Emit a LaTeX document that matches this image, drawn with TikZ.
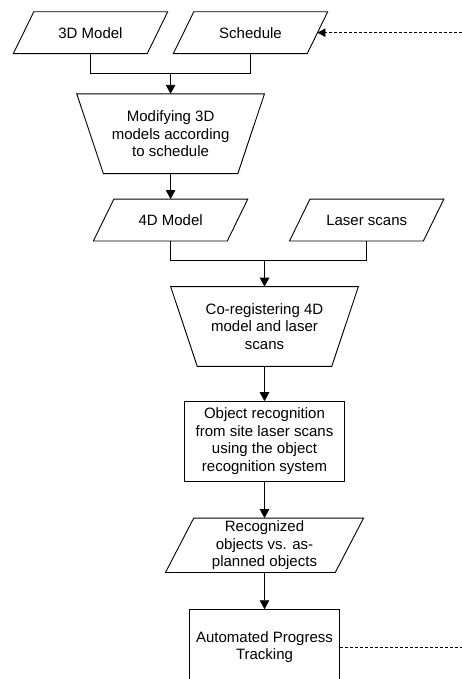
\documentclass[tikz,border=0pt]{standalone}
\usepackage{fontspec}
\setmainfont{Liberation Sans}
\usetikzlibrary{arrows.meta,calc}
\newcommand\paraoutline[2]{\draw[outline] ([xshift=#2]#1.north west) -- (#1.north east) -- ([xshift=-#2]#1.south east) -- (#1.south west) -- cycle;}
\newcommand\trapoutline[2]{\draw[outline] (#1.north west) -- (#1.north east) -- ([xshift=-#2]#1.south east) -- ([xshift=#2]#1.south west) -- cycle;}
\begin{document}
\begin{tikzpicture}[x=1pt,y=-1pt,
  every node/.style={font=\fontsize{15}{17.6}\selectfont},
  txt/.style={inner sep=0pt, align=center},
  outline/.style={draw=black, line width=0.9pt, line join=miter},
  conn/.style={draw=black, line width=0.9pt},
  arr/.style={conn, -{Triangle[length=9pt,width=9.5pt]}},
  fb/.style={draw=black, line width=0.8pt, dash pattern=on 3pt off 2pt},
  para/.style={txt, minimum width=154pt, minimum height=41.5pt},
  trap/.style={txt, minimum width=187.3pt, minimum height=79.3pt},
  rectbox/.style={txt, draw=black, line width=0.9pt}
]
\useasboundingbox (0,0) rectangle (462,679);

% nodes
\node[para] (m3d) at (90.5,32.7) {3D Model};
\node[para] (sch) at (250.5,32.7) {Schedule};
\node[trap] (mod) at (170.6,133.7) {Modifying 3D\\models according\\to schedule};
\node[para] (m4d) at (170.6,220) {4D Model};
\node[para] (las) at (366.7,220) {Laser scans};
\node[trap] (coreg) at (264.5,326.5) {Co-registering 4D\\model and laser\\scans};
\node[rectbox, minimum width=160.3pt, minimum height=79.3pt] (obj) at (264.5,441.3)
  {Object recognition\\from site laser scans\\using the object\\recognition system};
\node[txt, minimum width=197.7pt, minimum height=54pt] (rec) at (264.5,545.3)
  {Recognized\\objects vs. as-\\planned objects};
\node[rectbox, minimum width=150pt, minimum height=75pt] (apt) at (264.5,647.2)
  {Automated Progress\\Tracking};

% outlines
\paraoutline{m3d}{20.5pt}
\paraoutline{sch}{20.5pt}
\trapoutline{mod}{26.6pt}
\paraoutline{m4d}{20.5pt}
\paraoutline{las}{20.5pt}
\trapoutline{coreg}{26.6pt}
\paraoutline{rec}{28.3pt}

% connectors
\coordinate (j1) at ([yshift=20.7pt]mod.north);
\draw[conn] (m3d.south) |- (j1) -| (sch.south);
\draw[arr] (j1) -- (mod.north);
\draw[arr] (mod.south) -- (m4d.north);
\coordinate (j2) at ([yshift=26.3pt]coreg.north);
\draw[conn] (m4d.south) |- (j2) -| (las.south);
\draw[arr] (j2) -- (coreg.north);
\draw[arr] (coreg.south) -- (obj.north);
\draw[arr] (obj.south) -- (rec.north);
\draw[arr] (rec.south) -- (apt.north);

% feedback (cut by the picture edge)
\coordinate (fbR) at (462,647.2);
\coordinate (fbT) at (462,32.7);
\coordinate (schR) at ($(sch.north east)!0.5!([xshift=-20.5pt]sch.south east)$);
\draw[fb] (apt.east) -- (fbR);
\draw[fb, -{Triangle[length=8pt,width=8.5pt]}] (fbT) -- (schR);
\end{tikzpicture}
\end{document}
